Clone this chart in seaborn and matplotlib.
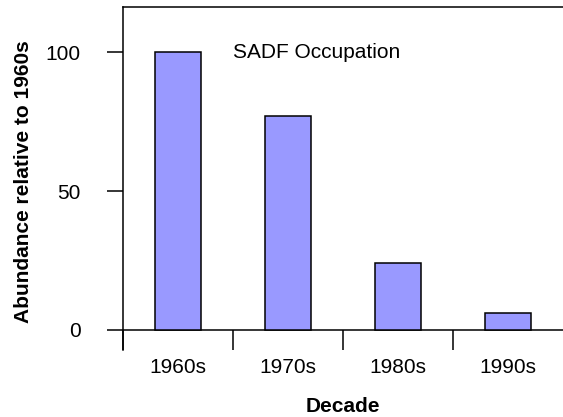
import matplotlib
matplotlib.use("Agg")
import matplotlib.pyplot as plt
import seaborn as sns
import pandas as pd

DECADES = ["1960s", "1970s", "1980s", "1990s"]
ABUNDANCE = [100, 77, 24, 6]
Y_TICKS = [0, 50, 100]
NOTE = "SADF Occupation"


def main() -> None:
    sns.set_theme(style="white")
    plt.rcParams["font.family"] = ["Liberation Sans", "DejaVu Sans"]
    plt.rcParams["font.size"] = 15
    plt.rcParams["text.color"] = "black"
    plt.rcParams["axes.labelcolor"] = "black"

    df = pd.DataFrame({"decade": DECADES, "abundance": ABUNDANCE})

    fig = plt.figure(figsize=(5.63, 4.17), dpi=100)
    ax = fig.add_axes([123 / 563, 1 - 350 / 417, 440 / 563, 343 / 417])

    sns.barplot(data=df, x="decade", y="abundance", ax=ax, color="#9999FF",
                saturation=1, width=0.41, edgecolor="black", linewidth=1.1)

    ax.set_xlim(-0.5, len(DECADES) - 0.5)
    ax.set_ylim(-7.2, 116.2)
    ax.axhline(0, color="black", linewidth=1.1, zorder=0.5)

    for side in ["right", "bottom"]:
        ax.spines[side].set_visible(False)
    for side in ["left", "top"]:
        ax.spines[side].set_color("black")
        ax.spines[side].set_linewidth(1.1)

    ax.set_yticks(Y_TICKS)
    ax.tick_params(axis="y", left=True, direction="out", length=11.5, width=1.1,
                   pad=19, labelsize=15, colors="black")

    ax.set_xticks(range(len(DECADES)))
    ax.set_xticklabels(DECADES)
    ax.set_xticks([i - 0.5 for i in range(len(DECADES))], minor=True)
    ax.tick_params(axis="x", which="major", bottom=False, length=0, pad=6,
                   labelsize=15, colors="black")
    ax.tick_params(axis="x", which="minor", bottom=True, direction="in",
                   length=14.4, width=1.1, color="black")

    ax.text(0.5, 100, NOTE, ha="left", va="center", fontsize=15, color="black")

    ax.set_xlabel("Decade", fontsize=15, fontweight="bold", labelpad=14)
    ax.set_ylabel("Abundance relative to 1960s", fontsize=15, fontweight="bold")
    ax.yaxis.set_label_coords(-0.205, 0.491)

    fig.savefig("out.png", dpi=100)


if __name__ == "__main__":
    main()
